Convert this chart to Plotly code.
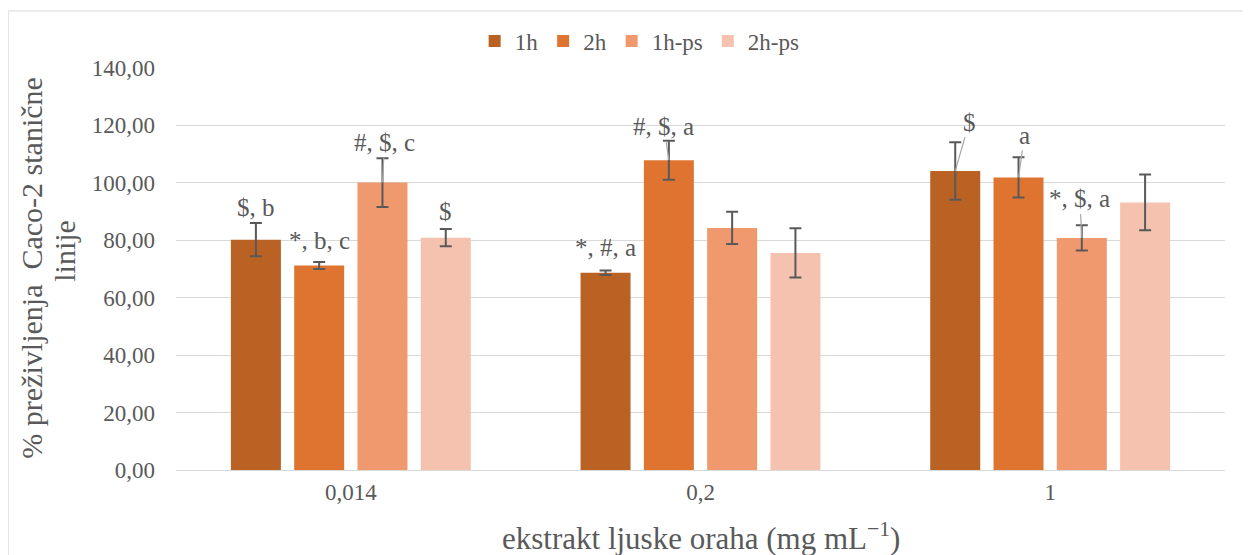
import plotly.graph_objects as go

categories = ["0,014", "0,2", "1"]
series_names = ["1h", "2h", "1h-ps", "2h-ps"]
colors = ["#BA6124", "#DE7430", "#F0996F", "#F5C2AF"]

v_1h = [80.2, 68.7, 104.1]
v_2h = [71.2, 107.9, 101.9]
v_1hps = [100.1, 84.3, 80.8]
v_2hps = [80.9, 75.6, 93.2]
e_1h = [5.8, 0.8, 10.0]
e_2h = [1.2, 6.8, 7.0]
e_1hps = [8.5, 5.6, 4.4]
e_2hps = [3.0, 8.6, 9.7]

values = [v_1h, v_2h, v_1hps, v_2hps]
errors = [e_1h, e_2h, e_1hps, e_2hps]

# significance labels: (category index, series index, text, dx px, dy px, leader line)
sig_cat = [0, 0, 0, 0, 1, 1, 2, 2, 2]
sig_ser = [0, 1, 2, 3, 0, 1, 0, 1, 2]
sig_text = ["$, b", "*, b, c", "#, $, c", "$", "*, #, a", "#, $, a", "$", "a", "*, $, a"]
sig_dx = [0, 0, 2, 0, 0, -5, 14, 6, -2]
sig_dy = [-32, -25, -40, -26, -25, -34, -49, -42, -39]
sig_leader = [False, False, True, False, False, True, True, True, True]

y_title_lines = ["% preživljenja  Caco-2 stanične", "linije"]
x_title = "ekstrakt ljuske oraha (mg mL<sup>−1</sup>)"

FONT = "Liberation Serif"
GREY = "#595959"
BARGAP = 0.276
BARGROUPGAP = 0.21

fig = go.Figure()
for name, col, vals, errs in zip(series_names, colors, values, errors):
    fig.add_trace(go.Bar(
        name=name, x=categories, y=vals, marker=dict(color=col, line=dict(width=0)),
        error_y=dict(type="data", array=errs, visible=True, color=GREY, thickness=2, width=6),
    ))

slot = (1 - BARGAP) / len(series_names)
for c, s, t, dx, dy, lead in zip(sig_cat, sig_ser, sig_text, sig_dx, sig_dy, sig_leader):
    xc = c + (s - (len(series_names) - 1) / 2) * slot
    yv = values[s][c]
    if lead:
        fig.add_annotation(x=xc, y=yv, text=t, showarrow=True, ax=dx, ay=dy,
                           arrowhead=0, arrowwidth=1.2, arrowcolor="#A6A6A6", standoff=0,
                           font=dict(family=FONT, size=25, color=GREY))
    else:
        fig.add_annotation(x=xc, y=yv, text=t, showarrow=False, xshift=dx, yshift=-dy,
                           xanchor="center", yanchor="middle",
                           font=dict(family=FONT, size=25, color=GREY))

# axis titles (y title as two rotated lines)
fig.add_annotation(xref="paper", yref="paper", x=-0.138, y=0.504,
                   text=y_title_lines[0], textangle=-90,
                   showarrow=False, xanchor="center", yanchor="middle",
                   font=dict(family=FONT, size=30, color=GREY))
fig.add_annotation(xref="paper", yref="paper", x=-0.106, y=0.545,
                   text=y_title_lines[1], textangle=-90,
                   showarrow=False, xanchor="center", yanchor="middle",
                   font=dict(family=FONT, size=30, color=GREY))
fig.add_annotation(xref="paper", yref="paper", x=0.5, y=-0.165,
                   text=x_title,
                   showarrow=False, xanchor="center", yanchor="middle",
                   font=dict(family=FONT, size=31, color=GREY))

# chart border
fig.add_shape(type="rect", xref="paper", yref="paper", x0=-0.160, x1=1.2, y0=-0.4, y1=1.142,
              line=dict(color="#D9D9D9", width=1), fillcolor="rgba(0,0,0,0)", layer="below")

fig.update_layout(
    width=1251, height=555,
    margin=dict(l=168, r=34, t=60, b=93, autoexpand=False),
    paper_bgcolor="white", plot_bgcolor="white",
    barmode="group", bargap=BARGAP, bargroupgap=BARGROUPGAP,
    separators=",.",
    font=dict(family=FONT, size=23, color=GREY),
    legend=dict(orientation="h", x=0.442, xanchor="center", y=1.067, yanchor="middle",
                font=dict(family=FONT, size=23, color=GREY), itemwidth=30,
                bgcolor="rgba(0,0,0,0)"),
    xaxis=dict(showgrid=False, showline=False, ticks="", tickfont=dict(size=23, color=GREY),
               ticklabelstandoff=6),
    yaxis=dict(range=[0, 140], dtick=20, tickformat=".2f", showgrid=True, gridcolor="#D9D9D9",
               gridwidth=1, zeroline=True, zerolinecolor="#D9D9D9", zerolinewidth=1,
               showline=False, ticks="", tickfont=dict(size=23, color=GREY), ticklabelstandoff=20),
)

fig.write_html("out.html")
